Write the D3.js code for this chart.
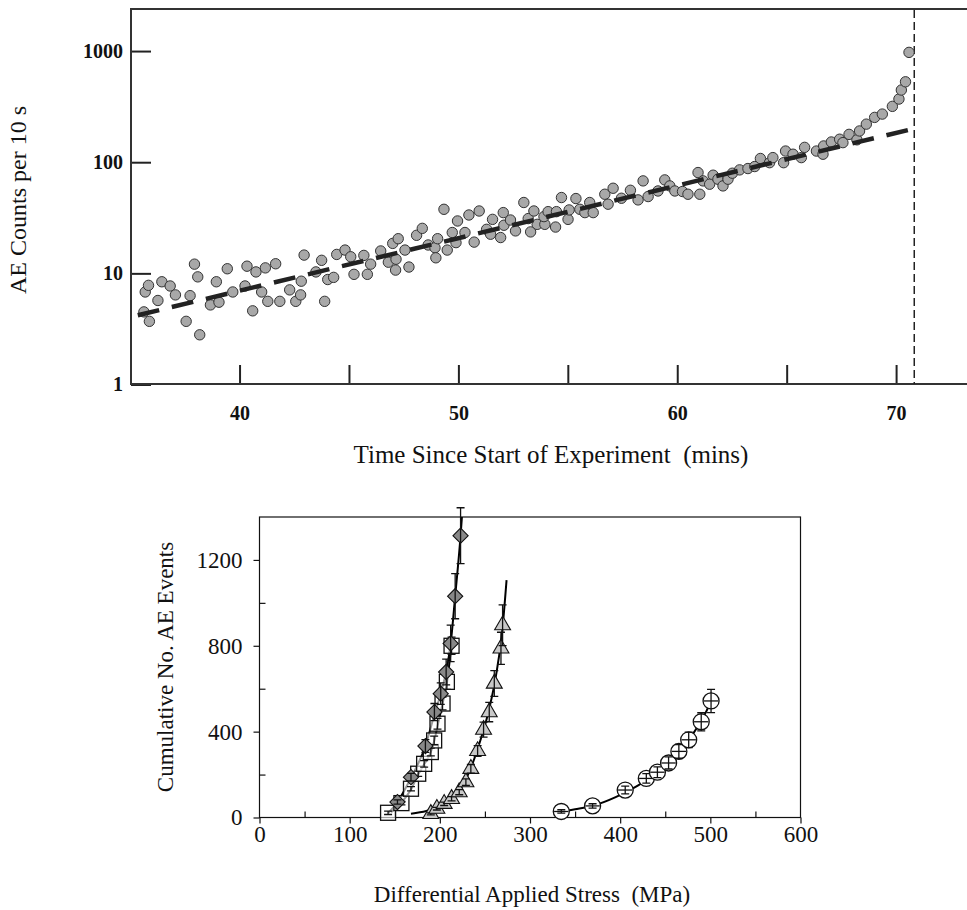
<!DOCTYPE html>
<html lang="en">
  <head>
    <meta charset="utf-8" />
    <title>AE counts and cumulative AE events</title>
    <script src="https://d3js.org/d3.v7.min.js"></script>
    <style type="text/css">
      body {
        margin: 0;
        background: white;
      }
      text {
        font-family: "Liberation Serif", "Times New Roman", serif;
        fill: #111;
      }
      .topTick text {
        font-weight: bold;
        font-size: 20px;
      }
      .botTick text {
        font-size: 23px;
      }
    </style>
  </head>
  <body>
    <script type="text/javascript">
      const w = 967;
      const h = 910;

      // ---- top panel: AE counts per 10 s against time ----
      const aeTime = [
        35.63, 35.88, 35.69, 35.84, 36.27, 36.45, 36.83, 37.07, 37.56, 37.74,
        37.94, 38.09, 38.18, 38.67, 39.06, 38.94, 39.44, 39.69, 40.25, 40.34,
        40.6, 40.75, 41.01, 41.18, 41.29, 41.65, 41.84, 42.29, 42.57, 42.82,
        42.79, 42.95, 43.75, 43.49, 44.03, 44.3, 43.89, 44.44,
        44.82, 45.08, 45.23, 45.68, 45.84, 45.99, 46.45, 46.8, 47.0, 47.25,
        47.15, 47.13, 47.56, 47.74, 48.09, 48.35, 48.62, 48.93, 49.05, 48.97,
        49.34, 49.49, 49.72, 49.89, 49.96, 50.3, 50.48, 50.72, 50.95, 51.29,
        51.56, 51.47, 51.93, 52.05, 52.08, 52.38, 52.61, 52.99, 53.19, 53.3,
        53.45, 53.6, 53.95, 53.91, 54.1, 54.44, 54.48, 54.71,
        55.01, 55.06, 55.37, 55.55, 55.78, 56.0, 56.16, 56.69, 56.84, 57.07,
        57.45, 57.86, 58.21, 58.44, 58.67, 59.12, 59.43, 59.66, 59.89, 60.24,
        60.49, 60.95, 61.03, 61.18, 61.64, 61.48, 61.86, 62.09, 62.32, 62.52,
        62.85, 63.23, 63.54, 63.8,
        64.22, 64.37, 64.86, 64.95, 65.29, 65.67, 65.82, 66.36, 66.66, 66.69,
        67.04, 67.42, 67.57, 67.85, 68.21, 68.33, 68.64, 69.02, 69.37, 69.83,
        70.13, 70.24, 70.43, 70.59
      ];
      const aeCounts = [
        4.5, 3.7, 6.8, 7.8, 5.7, 8.4, 7.7, 6.4, 3.7, 6.3,
        12.1, 9.3, 2.8, 5.2, 5.5, 8.4, 11.0, 6.8, 7.7, 11.6,
        4.6, 10.3, 6.8, 11.2, 5.6, 12.2, 5.6, 7.1, 5.6, 8.5,
        6.4, 14.6, 13.1, 10.3, 8.8, 9.2, 5.6, 14.8,
        16.2, 14.1, 9.8, 14.5, 9.8, 12.1, 15.9, 12.6, 18.6, 20.5,
        13.4, 10.7, 16.2, 11.4, 22.0, 25.4, 18.0, 17.0, 20.5, 13.8,
        37.7, 16.2, 23.3, 18.9, 29.6, 23.3, 33.5, 19.1, 36.4, 24.9,
        30.6, 22.5, 21.0, 35.2, 27.1, 30.2, 24.1, 43.4, 31.1, 23.6,
        36.4, 27.6, 27.6, 32.4, 35.9, 26.1, 35.9, 48.1,
        30.6, 37.2, 47.1, 37.7, 35.2, 43.4, 35.2, 51.5, 41.9, 58.3,
        47.4, 55.9, 45.8, 67.9, 49.1, 55.1, 69.3, 61.2, 55.1, 54.5,
        51.5, 80.7, 51.5, 67.9, 76.4, 63.4, 70.3, 61.2, 70.3, 79.6,
        85.3, 87.7, 91.4, 108,
        99, 110, 99, 126, 118, 110, 136, 126, 118, 140,
        152, 161, 150, 178, 159, 191, 220, 253, 271, 318,
        370, 446, 529, 973
      ];
      // straight (exponential) fit, end points
      const fitTime = [35.35, 70.7];
      const fitCounts = [4.2, 198];
      const failureTime = 70.83;
      const topTicks = [40, 45, 50, 55, 60, 65, 70];
      const topYTicks = [1, 10, 100, 1000];

      // ---- bottom panel: cumulative AE events against stress ----
      const diamondStress = [153, 168, 184, 194, 201, 207, 212, 217, 223];
      const diamondCount = [72, 188, 333, 491, 577, 678, 811, 1031, 1313];
      const diamondErr = [10, 18, 30, 40, 50, 60, 85, 105, 130];

      const squareStress = [142.6, 157.4, 168, 176, 182.6, 190, 193.7, 197.4, 203, 207.8, 213];
      const squareCount = [22, 67, 134, 204, 250, 305, 359, 437, 531, 632, 800];
      const squareErr = [8, 8, 10, 12, 15, 18, 20, 25, 30, 35, 40];

      const triStress = [190, 196.7, 204.8, 213, 221.5, 228.9, 234.4, 241.9, 248.5, 254.8, 260.4, 267.8, 269.6];
      const triCount = [17, 41, 64, 87, 118, 165, 227, 310, 409, 491, 624, 788, 896];
      const triErr = [5, 6, 8, 10, 12, 15, 20, 25, 35, 45, 60, 75, 95];

      const circStress = [334.7, 369.4, 405.6, 429, 441.3, 453.7, 465.1, 476, 489.9, 500.8];
      const circCount = [28, 54, 128, 182, 211, 254, 308, 362, 446, 543];
      const circErr = [8, 10, 18, 22, 25, 28, 32, 36, 42, 54];

      // fitted curves
      const diamondCurveStress = [143, 153, 168, 184, 194, 201, 207, 212, 217, 223, 224.5];
      const diamondCurveCount = [22, 72, 185, 333, 480, 577, 680, 810, 1030, 1313, 1400];
      const squareCurveStress = [146, 157, 168, 176, 183, 190, 194, 198, 203, 208, 213];
      const squareCurveCount = [25, 67, 130, 200, 250, 305, 360, 437, 530, 632, 810];
      const triCurveStress = [168, 185, 200, 213, 224, 234, 245, 255, 263, 269, 274];
      const triCurveCount = [17, 30, 50, 85, 140, 227, 360, 510, 680, 860, 1106];
      const circCurveStress = [327, 350, 370, 395, 420, 441, 460, 480, 495, 501];
      const circCurveCount = [22, 38, 55, 95, 150, 210, 280, 385, 490, 546];

      const botXTicks = [0, 100, 200, 300, 400, 500, 600];
      const botXMinor = [50, 150, 250, 350, 450, 550];
      const botYTicks = [0, 400, 800, 1200];
      const botYMinor = [200, 600, 1000];

      const svg = d3
        .select("body")
        .append("svg")
        .attr("width", w)
        .attr("height", h);

      // ================= top panel =================
      const xTop = d3.scaleLinear().domain([35.04, 73.24]).range([131, 967]);
      const yTop = d3.scaleLog().domain([1, 2390]).range([384.5, 9]);

      const topG = svg.append("g");

      // x axis, ticks pointing inward
      topG
        .append("g")
        .attr("class", "topTick")
        .attr("transform", "translate(0,384)")
        .call(
          d3
            .axisBottom(xTop)
            .tickValues(topTicks)
            .tickSize(-19)
            .tickPadding(22)
            .tickFormat((d) => (d % 10 === 0 ? d : ""))
        )
        .call((g) => g.select(".domain").remove())
        .call((g) => g.selectAll("line").attr("stroke", "#222").attr("stroke-width", 2));

      topG
        .append("g")
        .attr("class", "topTick")
        .attr("transform", "translate(131,0)")
        .call(
          d3
            .axisLeft(yTop)
            .tickValues(topYTicks)
            .tickSize(-20)
            .tickPadding(8)
            .tickFormat(d3.format("d"))
        )
        .call((g) => g.select(".domain").remove())
        .call((g) => g.selectAll("line").attr("stroke", "#222").attr("stroke-width", 2));

      // frame
      topG
        .append("path")
        .attr("d", `M967,9H131V384H967`)
        .attr("fill", "none")
        .attr("stroke", "#333")
        .attr("stroke-width", 2);

      // failure marker
      topG
        .append("line")
        .attr("x1", xTop(failureTime))
        .attr("x2", xTop(failureTime))
        .attr("y1", 10)
        .attr("y2", 384)
        .attr("stroke", "#222")
        .attr("stroke-width", 1.5)
        .attr("stroke-dasharray", "8,4");

      // data points
      topG
        .selectAll("circle.ae")
        .data(aeTime.map((t, i) => [t, aeCounts[i]]))
        .enter()
        .append("circle")
        .attr("class", "ae")
        .attr("cx", (d) => xTop(d[0]))
        .attr("cy", (d) => yTop(d[1]))
        .attr("r", 5.2)
        .attr("fill", "#a8a8a8")
        .attr("stroke", "#333")
        .attr("stroke-width", 1);

      // exponential fit
      topG
        .append("path")
        .datum(fitTime.map((t, i) => [t, fitCounts[i]]))
        .attr(
          "d",
          d3
            .line()
            .x((d) => xTop(d[0]))
            .y((d) => yTop(d[1]))
        )
        .attr("fill", "none")
        .attr("stroke", "#222")
        .attr("stroke-width", 4.5)
        .attr("stroke-dasharray", "22,13");

      topG
        .append("text")
        .attr("transform", "translate(26,200) rotate(-90)")
        .attr("text-anchor", "middle")
        .style("font-size", "24px")
        .text("AE Counts per 10 s");

      topG
        .append("text")
        .attr("x", 551)
        .attr("y", 463)
        .attr("text-anchor", "middle")
        .style("font-size", "25px")
        .text("Time Since Start of Experiment\u00a0\u00a0(mins)");

      // ================= bottom panel =================
      const xBot = d3.scaleLinear().domain([0, 600]).range([259.5, 800.5]);
      const yBot = d3.scaleLinear().domain([0, 1400]).range([817.5, 517]);

      const botG = svg.append("g");

      botG
        .append("rect")
        .attr("x", xBot(0))
        .attr("y", yBot(1400))
        .attr("width", xBot(600) - xBot(0))
        .attr("height", yBot(0) - yBot(1400))
        .attr("fill", "none")
        .attr("stroke", "#111")
        .attr("stroke-width", 1.2);

      botG
        .append("g")
        .attr("class", "botTick")
        .attr("transform", `translate(0,${yBot(0)})`)
        .call(d3.axisBottom(xBot).tickValues(botXTicks).tickSize(6).tickPadding(2))
        .call((g) => g.select(".domain").remove());
      botG
        .append("g")
        .attr("transform", `translate(0,${yBot(0)})`)
        .call(d3.axisBottom(xBot).tickValues(botXMinor).tickSize(-6).tickFormat(""))
        .call((g) => g.select(".domain").remove());

      botG
        .append("g")
        .attr("class", "botTick")
        .attr("transform", `translate(${xBot(0)},0)`)
        .call(
          d3
            .axisLeft(yBot)
            .tickValues(botYTicks)
            .tickSize(6)
            .tickPadding(11)
            .tickFormat(d3.format("d"))
        )
        .call((g) => g.select(".domain").remove());
      botG
        .append("g")
        .attr("transform", `translate(${xBot(0)},0)`)
        .call(d3.axisLeft(yBot).tickValues(botYMinor).tickSize(-6).tickFormat(""))
        .call((g) => g.select(".domain").remove());

      botG.selectAll(".tick line").attr("stroke", "#111").attr("stroke-width", 1.2);

      botG
        .append("clipPath")
        .attr("id", "botClip")
        .append("rect")
        .attr("x", xBot(0))
        .attr("y", yBot(1400))
        .attr("width", xBot(600) - xBot(0))
        .attr("height", yBot(0) - yBot(1400));

      const curve = d3
        .line()
        .x((d) => xBot(d[0]))
        .y((d) => yBot(d[1]))
        .curve(d3.curveMonotoneX);

      const curves = [
        [diamondCurveStress, diamondCurveCount],
        [squareCurveStress, squareCurveCount],
        [triCurveStress, triCurveCount],
        [circCurveStress, circCurveCount]
      ];
      botG
        .append("g")
        .attr("clip-path", "url(#botClip)")
        .selectAll("path")
        .data(curves)
        .enter()
        .append("path")
        .attr("d", (c) => curve(c[0].map((s, i) => [s, c[1][i]])))
        .attr("fill", "none")
        .attr("stroke", "#000")
        .attr("stroke-width", 2);

      // markers with error bars
      function drawSeries(stress, count, err, drawMarker, hErr) {
        const g = botG.append("g");
        const pts = stress.map((s, i) => ({ s: s, c: count[i], e: err[i] }));
        const p = g
          .selectAll("g")
          .data(pts)
          .enter()
          .append("g")
          .attr("transform", (d) => `translate(${xBot(d.s)},${yBot(d.c)})`);
        drawMarker(p);
        p.append("path")
          .attr("d", (d) => {
            const up = yBot(d.c + d.e) - yBot(d.c);
            const dn = yBot(Math.max(0, d.c - d.e)) - yBot(d.c);
            return `M0,${up}V${dn}M-4,${up}H4M-4,${dn}H4`;
          })
          .attr("stroke", "#111")
          .attr("stroke-width", 1.3)
          .attr("fill", "none");
        if (hErr) {
          p.append("line")
            .attr("x1", xBot(0) - xBot(hErr))
            .attr("x2", xBot(hErr) - xBot(0))
            .attr("stroke", "#111")
            .attr("stroke-width", 1.3);
        }
      }

      drawSeries(squareStress, squareCount, squareErr, (p) =>
        p
          .append("rect")
          .attr("x", -7.5)
          .attr("y", -7.5)
          .attr("width", 15)
          .attr("height", 15)
          .attr("fill", "white")
          .attr("fill-opacity", 0.6)
          .attr("stroke", "#111")
          .attr("stroke-width", 1.3)
      );

      drawSeries(diamondStress, diamondCount, diamondErr, (p) =>
        p
          .append("path")
          .attr("d", d3.symbol(d3.symbolSquare, 115))
          .attr("transform", "rotate(45)")
          .attr("fill", "#888888")
          .attr("stroke", "#111")
          .attr("stroke-width", 1.1)
      );

      drawSeries(triStress, triCount, triErr, (p) =>
        p
          .append("path")
          .attr("d", d3.symbol(d3.symbolTriangle, 110))
          .attr("fill", "#c8c8c8")
          .attr("stroke", "#111")
          .attr("stroke-width", 1.1)
      );

      drawSeries(
        circStress,
        circCount,
        circErr,
        (p) =>
          p
            .append("circle")
            .attr("r", 8)
            .attr("fill", "white")
            .attr("stroke", "#111")
            .attr("stroke-width", 1.3),
        8
      );

      botG
        .append("text")
        .attr("transform", "translate(173,667) rotate(-90)")
        .attr("text-anchor", "middle")
        .style("font-size", "23px")
        .text("Cumulative No. AE Events");

      botG
        .append("text")
        .attr("x", 532)
        .attr("y", 902)
        .attr("text-anchor", "middle")
        .style("font-size", "23px")
        .text("Differential Applied Stress\u00a0\u00a0(MPa)");
    </script>
  </body>
</html>
